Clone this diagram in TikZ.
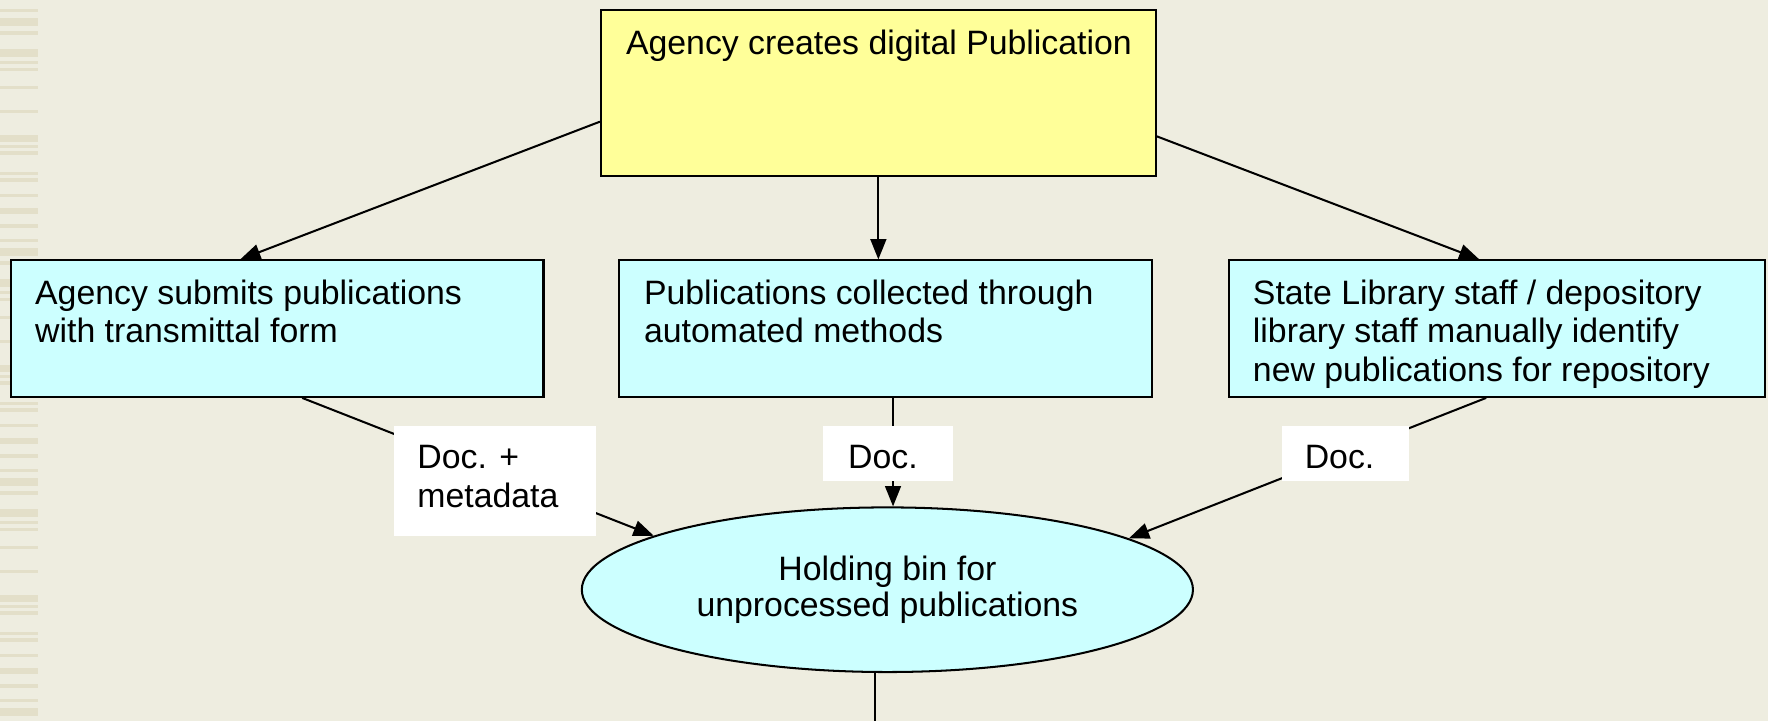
\documentclass[tikz,border=0pt]{standalone}
\usepackage{fontspec}
\setmainfont{Liberation Sans}
\usetikzlibrary{arrows.meta,shapes.geometric}
\definecolor{bgc}{RGB}{238,237,224}
\definecolor{stripec}{RGB}{227,223,201}
\definecolor{yel}{RGB}{255,255,153}
\definecolor{cyn}{RGB}{204,255,255}
\begin{document}
\begin{tikzpicture}[x=1pt,y=-1pt,
  boxstyle/.style={draw=black,line width=1.8pt,rectangle,inner sep=0pt},
  labelbox/.style={fill=white,draw=none,rectangle,inner sep=0pt},
  txt/.style={anchor=north west,inner sep=0pt,align=left,font=\fontsize{30}{34}\selectfont},
  conn/.style={line width=1.8pt,-{Triangle[length=18pt,width=14pt]}},
  plain/.style={line width=1.8pt}]
\useasboundingbox (0,0) rectangle (1568,639);
\fill[bgc] (0,0) rectangle (1568,639);
\foreach \p in {0,230,460,690}{
  \foreach \a/\b in {9/12,18/26,31/35,49/57,61/64,68/71,86/89,110/113,135/142,145/148,151/155,172/175,178/182,194/197,208/214,224/228}{
    \fill[stripec] (0,{(\p+\a)*0.887}) rectangle (33.7,{(\p+\b)*0.887});
  }
}
% boxes
\node[boxstyle,fill=yel,minimum width=492pt,minimum height=147pt] (Y) at (779,82.5) {};
\node[boxstyle,fill=cyn,minimum width=472pt,minimum height=121pt] (A) at (246,291.5) {};
\node[boxstyle,fill=cyn,minimum width=473pt,minimum height=121pt] (B) at (785.5,291.5) {};
\node[boxstyle,fill=cyn,minimum width=475pt,minimum height=121pt] (C) at (1327.5,291.5) {};
\node[draw=black,line width=1.8pt,ellipse,fill=cyn,inner sep=0pt,minimum width=542pt,minimum height=146pt] (E) at (787,523) {};
\coordinate (bottom) at (776,639);
% connectors
\draw[conn] ([yshift=49pt]Y.south west) -- ([xshift=-33pt]A.north);
\draw[conn] (Y.south) -- (Y.south |- B.north);
\draw[conn] ([yshift=36pt]Y.south east) -- ([xshift=-15.5pt]C.north);
\draw[conn] ([xshift=22pt]A.south) -- (E.167);
\draw[conn] ([xshift=6.5pt]B.south) -- ([xshift=5pt]E.north);
\draw[conn] ([xshift=-9.5pt]C.south) -- (E.12);
\draw[plain] ([xshift=-11pt]E.south) -- (bottom);
% labels
\node[labelbox,minimum width=180pt,minimum height=97pt] (LA) at (439,426.5) {};
\node[labelbox,minimum width=115pt,minimum height=49pt] (LB) at (787.5,402.5) {};
\node[labelbox,minimum width=113pt,minimum height=49pt] (LC) at (1193.5,402.5) {};
% texts
\node[txt] (YT) at (555,26) {Agency creates digital Publication};
\node[txt] (AT) at (31,248) {Agency submits publications\\with transmittal form};
\node[txt] (BT) at (571,248) {Publications collected through\\automated methods};
\node[txt] (CT) at (1111,248) {State Library staff / depository\\library staff manually identify\\new publications for repository};
\node[txt] (LAT) at (370,395) {Doc. +\\metadata};
\node[txt] (LBT) at (752,395) {Doc.};
\node[txt] (LCT) at (1157,395) {Doc.};
\node[inner sep=0pt,align=center,font=\fontsize{30}{32}\selectfont] (ET) at (787,523) {Holding bin for\\unprocessed publications};
\end{tikzpicture}
\end{document}
